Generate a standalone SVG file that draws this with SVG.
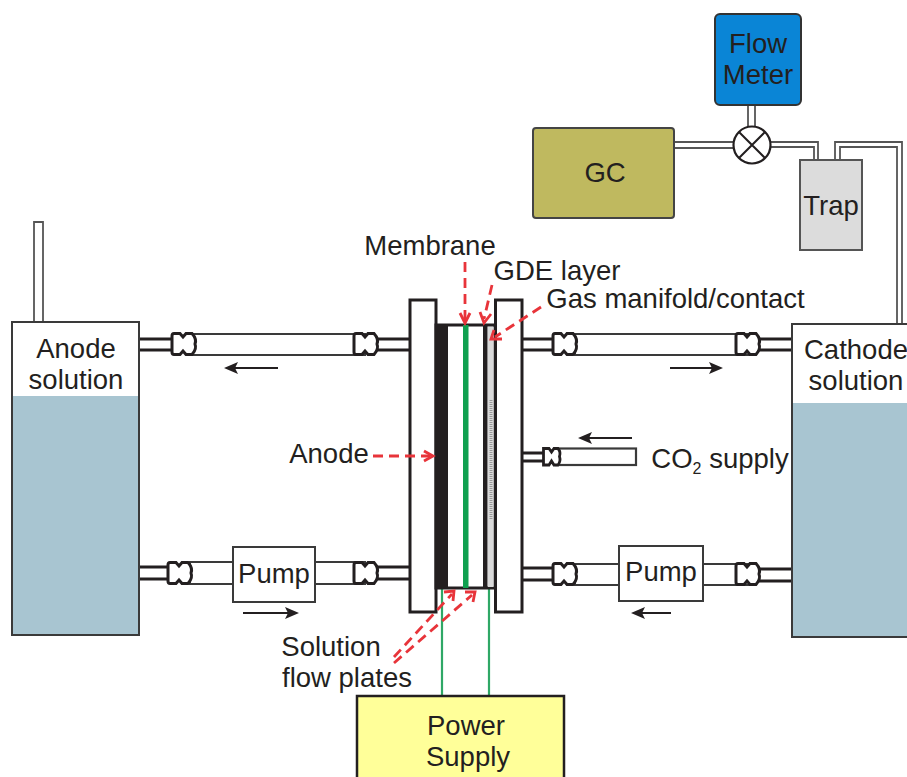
<svg xmlns="http://www.w3.org/2000/svg" width="907" height="777" viewBox="0 0 907 777">
<style>
text{font-family:"Liberation Sans",Arial,sans-serif;font-size:27.500px;fill:#231f20;text-anchor:middle}
.b{fill:#fff;stroke:#231f20;stroke-width:3}
.t{fill:#fff;stroke:#3a3a3a;stroke-width:2}
.p{fill:none;stroke:#231f20;stroke-width:3}
.g{fill:none;stroke:#555;stroke-width:1.8}
.r{fill:none;stroke:#e8343a;stroke-width:2.800;stroke-dasharray:10 6}
.rh{fill:none;stroke:#e8343a;stroke-width:2.800}
.k{fill:none;stroke:#231f20;stroke-width:2}
.gr{stroke:#2fa866;stroke-width:2.200;fill:none}
</style>
<defs>
<path id="v" d="M0 -10.500H6L9 -7L12 -10.500H18Q23 -5 21 0Q23 5 18 10.500H12L9 7L6 10.500H0Q-2 10.500 -2 8V-8Q-2 -10.500 0 -10.500Z" fill="#fff" stroke="#231f20" stroke-width="3"/>
</defs>
<g id="connectors">
<path class="g" d="M34 322V222H43V322"/>
<rect class="t" x="190" y="334" width="175" height="21"/>
<rect class="t" x="575" y="334" width="175" height="21"/>
<rect class="t" x="190" y="562" width="175" height="22"/>
<rect class="t" x="575" y="564" width="175" height="21"/>
<rect x="556" y="448.500" width="80" height="16.500" fill="#fff" stroke="#3a3a3a" stroke-width="2.200"/>
<path class="p" d="M139 339H174M139 350H174M365 339H410M365 350H410M522 339H555M522 350H555M750 339H792M750 350H792"/>
<path class="p" d="M139 567H174M139 579H174M365 567H410M365 579H410M522 568H555M522 580H555M750 569H792M750 581H792"/>
<path class="p" d="M522 453H545M522 461H545"/>
<use href="#v" x="174" y="344"/><use href="#v" x="356" y="344"/><use href="#v" x="555" y="344"/><use href="#v" x="738" y="344"/>
<use href="#v" x="170" y="573"/><use href="#v" x="356" y="573"/><use href="#v" x="555" y="574"/><use href="#v" x="738" y="574"/>
<path d="M543.500 448.500H549L551.500 452L554 448.500H558Q561 452 559.500 456.500Q561 461 558 465H554L551.500 461L549 465H543.500Z" fill="#fff" stroke="#231f20" stroke-width="2.800"/>
<path class="k" d="M278 368H230M718 368H670M294 613H243M671 613H636M632 438H583"/>
<path d="M224 368L238 362L235 368L238 374Z" fill="#231f20"/>
<path d="M723 368L709 362L712 368L709 374Z" fill="#231f20"/>
<path d="M299 613L285 607L288 613L285 619Z" fill="#231f20"/>
<path d="M631 613L645 607L642 613L645 619Z" fill="#231f20"/>
<path d="M578 438L592 432L589 438L592 444Z" fill="#231f20"/>
<path class="g" d="M675 142H733M675 148H733M748 105V127M755 105V127M771 142H818V160M771 147H814V160M835 160V142H902V324M840 160V147H897V324"/>
<path class="gr" d="M442 587V696M489 587V696"/>
</g>
<g id="anode-tank">
<rect class="t" x="12" y="322" width="127" height="313"/>
<rect x="13" y="396" width="125" height="238" fill="#a8c5d1"/>
<text x="76" y="358">Anode</text><text x="76" y="389">solution</text>
</g>
<g id="cathode-tank">
<rect class="t" x="792" y="324" width="116" height="313"/>
<rect x="793" y="403" width="114" height="233" fill="#a8c5d1"/>
<text x="856" y="359">Cathode</text><text x="856" y="390">solution</text>
</g>
<g id="cell">
<rect class="b" x="410" y="300" width="26" height="312"/>
<rect class="b" x="495.500" y="300" width="26.500" height="312"/>
<rect x="436" y="325" width="59" height="263" fill="#fff" stroke="#231f20" stroke-width="3"/>
<rect x="436" y="325" width="12" height="263" fill="#231f20"/>
<rect x="463" y="325" width="5.500" height="263" fill="#0fa04f"/>
<rect x="483" y="325" width="4.500" height="263" fill="#231f20"/>
<rect x="488" y="327" width="5.500" height="260" fill="#d9d9d9"/>
<path d="M491 400V520" stroke="#999" stroke-width="3" stroke-dasharray="1 1"/>
</g>
<g id="pump-left"><rect class="t" x="233" y="547" width="82" height="55"/><text x="274" y="583">Pump</text></g>
<g id="pump-right"><rect class="t" x="619" y="546" width="84" height="55"/><text x="661" y="581">Pump</text></g>
<g id="flow-meter"><rect x="715" y="14" width="86" height="91" rx="5" fill="#0a85d6" stroke="#333" stroke-width="2"/><text x="758" y="53">Flow</text><text x="758" y="84">Meter</text></g>
<g id="valve"><circle cx="752" cy="145" r="18.500" fill="#fff" stroke="#231f20" stroke-width="2.200"/><path class="k" d="M739 132L765 158M765 132L739 158"/></g>
<g id="gc"><rect x="533" y="128" width="141" height="90" rx="3" fill="#bfb95f" stroke="#444" stroke-width="2"/><text x="605" y="182">GC</text></g>
<g id="trap"><rect x="800" y="160" width="62" height="90" fill="#dcdcdc" stroke="#555" stroke-width="2"/><text x="831" y="215">Trap</text></g>
<g id="power-supply"><rect x="357" y="696" width="207" height="85" fill="#ffff99" stroke="#231f20" stroke-width="2.500"/><text x="466" y="735">Power</text><text x="468" y="766">Supply</text></g>
<g id="labels">
<text x="430" y="255">Membrane</text>
<text x="557" y="280">GDE layer</text>
<text x="675.500" y="308">Gas manifold/contact</text>
<text x="329" y="463">Anode</text>
<text x="720" y="468">CO<tspan font-size="16" dy="6">2</tspan><tspan dy="-6"> supply</tspan></text>
<text x="331" y="656">Solution</text>
<text x="347" y="687">flow plates</text>
</g>
<g id="red-arrows">
<path class="r" d="M465 262V320"/><path class="rh" d="M460 313L465 323L470 313"/>
<path class="r" d="M492 285L484 319"/><path class="rh" d="M480 312L484 323L491 314"/>
<path class="r" d="M541 307L495 337"/><path class="rh" d="M494 330L491 339L502 339"/>
<path class="r" d="M373 456H430"/><path class="rh" d="M424 451L433 456L424 461"/>
<path class="r" d="M394 657L452 594"/><path class="rh" d="M444 592L454 591L453 601"/>
<path class="r" d="M394 663L472 595"/><path class="rh" d="M465 592L475 592L473 602"/>
</g>
</svg>
